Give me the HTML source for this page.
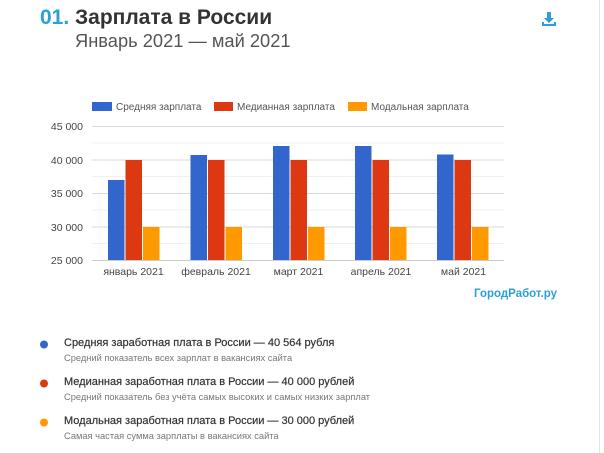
<!DOCTYPE html>
<html><head><meta charset="utf-8"><style>
body{margin:0;width:604px;height:453px;background:#fff;font-family:"Liberation Sans","Noto Sans CJK SC",sans-serif;position:relative;overflow:hidden}
.a{position:absolute;white-space:nowrap}
</style></head><body>
<div class="a" style="left:599px;top:0;width:1px;height:453px;background:#e6e6e6"></div>
<div class="a" style="left:40px;top:6px;font-size:21px;font-weight:bold;color:#2a9fd8">01.</div>
<div class="a" style="left:75px;top:6px;font-size:21px;font-weight:bold;color:#333">Зарплата в России</div>
<div class="a" style="left:75px;top:30px;font-size:18.3px;color:#555">Январь 2021 — май 2021</div>
<svg class="a" style="left:540px;top:10px" width="18" height="18" viewBox="0 0 18 18"><path d="M7 2h4v6h3l-5 5-5-5h3z" fill="#2a9fd8"/><path d="M2 12v4h14v-4h-2v2H4v-2z" fill="#2a9fd8"/></svg>
<svg class="a" style="left:0;top:0" width="604" height="453">
<g font-family="Liberation Sans, sans-serif" font-size="10" fill="#555">
<rect x="92" y="102" width="20" height="9" fill="#3366cc"/><text x="116" y="110">Средняя зарплата</text>
<rect x="214" y="102" width="19" height="9" fill="#dc3912"/><text x="237" y="110">Медианная зарплата</text>
<rect x="348" y="102" width="19" height="9" fill="#ff9900"/><text x="371" y="110">Модальная зарплата</text>
</g>
<g stroke="#f0f0f0"><line x1="92" x2="504" y1="143" y2="143"/><line x1="92" x2="504" y1="176.5" y2="176.5"/><line x1="92" x2="504" y1="210" y2="210"/><line x1="92" x2="504" y1="243.5" y2="243.5"/></g>
<g stroke="#dadada"><line x1="92" x2="504" y1="126.5" y2="126.5"/><line x1="92" x2="504" y1="160" y2="160"/><line x1="92" x2="504" y1="193.5" y2="193.5"/><line x1="92" x2="504" y1="227" y2="227"/></g>
<g font-family="Liberation Sans, sans-serif" font-size="10.5" fill="#444" text-anchor="end">
<text x="83" y="130">45 000</text><text x="83" y="164">40 000</text><text x="83" y="197">35 000</text><text x="83" y="231">30 000</text><text x="83" y="264">25 000</text>
</g>
<g>
<rect x="108" y="180" width="16.5" height="80" fill="#3366cc"/><rect x="125.5" y="160" width="16.5" height="100" fill="#dc3912"/><rect x="143" y="227" width="16.5" height="33" fill="#ff9900"/>
<rect x="190.5" y="155" width="16.5" height="105" fill="#3366cc"/><rect x="208" y="160" width="16.5" height="100" fill="#dc3912"/><rect x="225.5" y="227" width="16.5" height="33" fill="#ff9900"/>
<rect x="273" y="146" width="16.5" height="114" fill="#3366cc"/><rect x="290.5" y="160" width="16.5" height="100" fill="#dc3912"/><rect x="308" y="227" width="16.5" height="33" fill="#ff9900"/>
<rect x="355" y="146" width="16.5" height="114" fill="#3366cc"/><rect x="372.5" y="160" width="16.5" height="100" fill="#dc3912"/><rect x="390" y="227" width="16.5" height="33" fill="#ff9900"/>
<rect x="437" y="154.5" width="16.5" height="105.5" fill="#3366cc"/><rect x="454.5" y="160" width="16.5" height="100" fill="#dc3912"/><rect x="472" y="227" width="16.5" height="33" fill="#ff9900"/>
</g>
<line x1="92" x2="504" y1="260.5" y2="260.5" stroke="#ccc"/>
<g font-family="Liberation Sans, sans-serif" font-size="10.5" fill="#444" text-anchor="middle">
<text x="133.5" y="275">январь 2021</text><text x="216" y="275">февраль 2021</text><text x="298.5" y="275">март 2021</text><text x="381" y="275">апрель 2021</text><text x="463.5" y="275">май 2021</text>
</g>
<text x="474" y="297" font-family="Liberation Sans, sans-serif" font-size="11.5" font-weight="bold" fill="#2a9fd8">ГородРабот.ру</text>
<circle cx="44" cy="344.5" r="4" fill="#3366cc"/><circle cx="44" cy="383.5" r="4" fill="#dc3912"/><circle cx="44" cy="422.5" r="4" fill="#ff9900"/>
</svg>
<div class="a" style="left:64px;top:337px;font-size:11px;color:#333;-webkit-text-stroke:0.2px #333">Средняя заработная плата в России — 40 564 рубля</div>
<div class="a" style="left:64px;top:353px;font-size:9.3px;color:#777">Средний показатель всех зарплат в вакансиях сайта</div>
<div class="a" style="left:64px;top:376px;font-size:11px;color:#333;-webkit-text-stroke:0.2px #333">Медианная заработная плата в России — 40 000 рублей</div>
<div class="a" style="left:64px;top:392px;font-size:9.3px;color:#777">Средний показатель без учёта самых высоких и самых низких зарплат</div>
<div class="a" style="left:64px;top:415px;font-size:11px;color:#333;-webkit-text-stroke:0.2px #333">Модальная заработная плата в России — 30 000 рублей</div>
<div class="a" style="left:64px;top:431px;font-size:9.3px;color:#777">Самая частая сумма зарплаты в вакансиях сайта</div>
</body></html>
